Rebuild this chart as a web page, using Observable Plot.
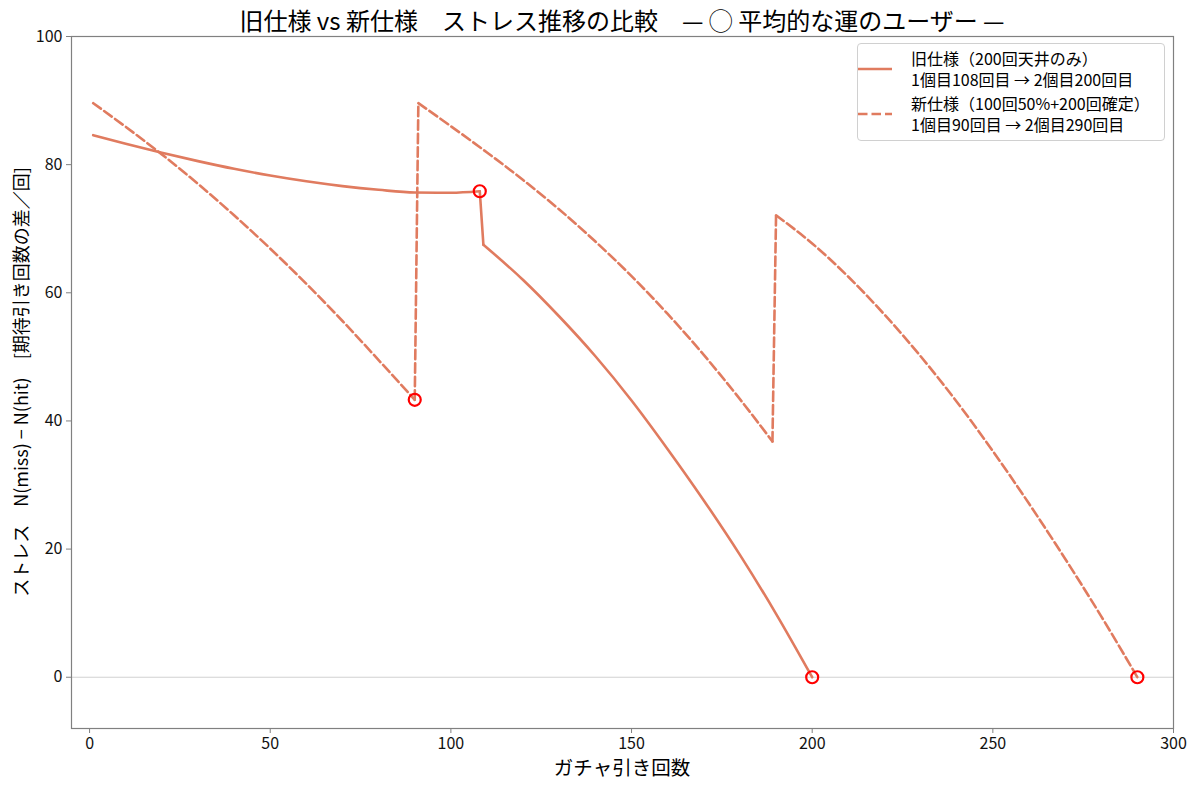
<!DOCTYPE html>
<html>
<head>
<meta charset="utf-8">
<script src="https://cdn.jsdelivr.net/npm/d3@7"></script>
<script src="https://cdn.jsdelivr.net/npm/@observablehq/plot@0.6"></script>
<style>
  html, body { margin: 0; padding: 0; background: #fff; }
  #wrap { position: relative; width: 1200px; height: 788px; font-family: "Noto Sans CJK JP", "Noto Sans", sans-serif; color: #000; }
  #wrap svg { position: absolute; left: 0; top: 0; }
  .title { position: absolute; left: 71px; width: 1102px; top: 2px; text-align: center; font-size: 24px; white-space: pre; }
  .xlabel { position: absolute; left: 71px; width: 1102px; top: 752px; text-align: center; font-size: 19.5px; }
  .ylabel { position: absolute; left: 20px; top: 382px; transform: translate(-50%, -50%) rotate(-90deg); font-size: 18px; white-space: pre; }
  .legend { position: absolute; left: 857px; top: 43px; width: 306px; height: 96px; border: 1px solid #d0d0d0; border-radius: 4px; background: rgba(255,255,255,0.85); font-size: 16px; line-height: 21px; }
  .entry { position: absolute; left: 0; }
  .entry svg { position: absolute; left: 6px; }
  .entry .txt { position: absolute; left: 53px; white-space: pre; }
</style>
</head>
<body>
<div id="wrap"></div>
<script>
// ---- data ----
const oldX1 = [1, 10, 20, 30, 40, 50, 60, 70, 80, 90, 100, 108];
const oldY1 = [84.6, 83.25, 81.85, 80.55, 79.35, 78.3, 77.4, 76.65, 76.07, 75.65, 75.62, 75.85];
const oldX2 = [109, 120, 130, 140, 150, 160, 170, 180, 190, 200];
const oldY2 = [67.5, 62.0, 56.3, 50.1, 43.2, 35.6, 27.6, 19.1, 9.9, 0];

const newX1 = [1, 10, 20, 30, 40, 50, 60, 70, 80, 90];
const newY1 = [89.6, 85.9, 81.6, 77.0, 72.1, 66.9, 61.4, 55.6, 49.5, 43.3];
const newX2 = [91, 100, 110, 120, 130, 140, 150, 160, 170, 180, 189];
const newY2 = [89.6, 86.0, 81.9, 77.6, 73.0, 68.0, 62.6, 56.7, 50.3, 43.4, 36.8];
const newX3 = [190, 200, 210, 220, 230, 240, 250, 260, 270, 280, 290];
const newY3 = [72.1, 67.7, 62.5, 56.6, 50.1, 43.0, 35.3, 27.1, 18.5, 9.5, 0];

const hitX = [108, 200, 90, 290];
const hitY = [75.85, 0, 43.3, 0];

const xTicks = [0, 50, 100, 150, 200, 250, 300];
const yTicks = [0, 20, 40, 60, 80, 100];

const titleText = "旧仕様 vs 新仕様　ストレス推移の比較　— ◯ 平均的な運のユーザー —";
const xLabelText = "ガチャ引き回数";
const yLabelText = "ストレス　N(miss) − N(hit)　[期待引き回数の差／回]";
const legendOld = ["旧仕様（200回天井のみ）", "1個目108回目 → 2個目200回目"];
const legendNew = ["新仕様（100回50%+200回確定）", "1個目90回目 → 2個目290回目"];

// ---- build rows: segments + vertical jump connectors ----
function buildRows(segs) {
  const rows = [];
  let id = 0;
  segs.forEach(([xs, ys], i) => {
    xs.forEach((x, j) => rows.push({x, y: ys[j], seg: id}));
    id++;
    if (i < segs.length - 1) {
      const [nx, ny] = segs[i + 1];
      rows.push({x: xs[xs.length - 1], y: ys[ys.length - 1], seg: id});
      rows.push({x: nx[0], y: ny[0], seg: id});
      id++;
    }
  });
  return rows;
}
const oldRows = buildRows([[oldX1, oldY1], [oldX2, oldY2]]);
const newRows = buildRows([[newX1, newY1], [newX2, newY2], [newX3, newY3]]);
const hits = hitX.map((x, i) => ({x, y: hitY[i]}));

const lineColor = "#e07b5f";
const axisGray = "#808080";

const chart = Plot.plot({
  width: 1200,
  height: 788,
  marginTop: 36,
  marginRight: 27,
  marginBottom: 60,
  marginLeft: 71,
  style: {fontFamily: "'Noto Sans CJK JP', 'Noto Sans', sans-serif", background: "transparent"},
  x: {domain: [-5, 300]},
  y: {domain: [-8, 100]},
  marks: [
    Plot.ruleY([0], {stroke: "#cccccc", strokeWidth: 0.9}),
    Plot.axisX({ticks: xTicks, tickSize: 5, tickPadding: 4, fontSize: 16, stroke: axisGray, fill: "#111", label: null}),
    Plot.axisY({ticks: yTicks, tickSize: 5, tickPadding: 4, fontSize: 16, stroke: axisGray, fill: "#111", label: null}),
    Plot.line(oldRows, {x: "x", y: "y", z: "seg", curve: "monotone-x", stroke: lineColor, strokeWidth: 2.6}),
    Plot.line(newRows, {x: "x", y: "y", z: "seg", curve: "monotone-x", stroke: lineColor, strokeWidth: 2.6, strokeDasharray: "9.5,4"}),
    Plot.dot(hits, {x: "x", y: "y", r: 6, stroke: "#ff0000", strokeWidth: 2.2, fill: "none"}),
    Plot.frame({stroke: axisGray, strokeWidth: 1.2})
  ]
});

const wrap = document.getElementById("wrap");
wrap.appendChild(chart);

function addDiv(cls, text) {
  const d = document.createElement("div");
  d.className = cls;
  d.textContent = text;
  wrap.appendChild(d);
  return d;
}
addDiv("title", titleText);
addDiv("xlabel", xLabelText);
addDiv("ylabel", yLabelText);

const legend = document.createElement("div");
legend.className = "legend";
wrap.appendChild(legend);
function addEntry(top, lines, dash) {
  const e = document.createElement("div");
  e.className = "entry";
  e.style.top = top + "px";
  const ns = "http://www.w3.org/2000/svg";
  const s = document.createElementNS(ns, "svg");
  s.setAttribute("width", 40);
  s.setAttribute("height", 8);
  s.style.top = "17px";
  const l = document.createElementNS(ns, "line");
  l.setAttribute("x1", 0); l.setAttribute("x2", 34);
  l.setAttribute("y1", 4); l.setAttribute("y2", 4);
  l.setAttribute("stroke", lineColor);
  l.setAttribute("stroke-width", 2.6);
  if (dash) l.setAttribute("stroke-dasharray", "9.5,4");
  s.appendChild(l);
  e.appendChild(s);
  const t = document.createElement("div");
  t.className = "txt";
  t.textContent = lines.join("\n");
  t.style.top = "0px";
  e.appendChild(t);
  legend.appendChild(e);
}
addEntry(4, legendOld, false);
addEntry(49, legendNew, true);
</script>
</body>
</html>
